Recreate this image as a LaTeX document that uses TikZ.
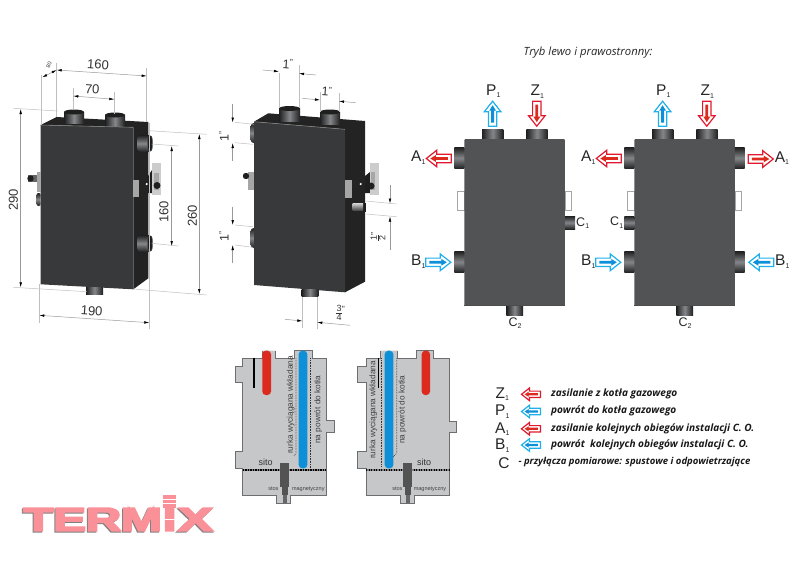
\documentclass[tikz,border=0pt]{standalone}
\usepackage{fontspec}
\setmainfont{Liberation Sans}
\newfontfamily\legendfont{Open Sans}
\newfontfamily\logofont[BoldFeatures={FakeBold=5}]{Liberation Sans}
\usetikzlibrary{arrows.meta}

\definecolor{frontgrey}{HTML}{38393A}
\definecolor{sidegrey}{HTML}{232324}
\definecolor{bodygrey}{HTML}{515354}
\definecolor{pipedark}{HTML}{1F1F20}
\definecolor{pipelight}{HTML}{85878A}
\definecolor{cutgrey}{HTML}{C6C7C9}
\definecolor{cutline}{HTML}{6E6E70}
\definecolor{hotred}{HTML}{E2192C}
\definecolor{tubered}{HTML}{DC2A1E}
\definecolor{coldblue}{HTML}{1FB0EC}
\definecolor{tubeblue}{HTML}{0E90D8}
\definecolor{logopink}{HTML}{FA9199}

\newcommand{\sublabel}[2]{#1\raisebox{-2.5pt}{\fontsize{7}{7}\selectfont #2}}
\newcommand{\inchmark}{\raisebox{3pt}{\fontsize{9}{9}\selectfont"}}
\newcommand{\stackfrac}[2]{$\vcenter{\offinterlineskip\halign{\hfil##\hfil\cr#1\cr\noalign{\vskip0.8pt}\rule{5.5pt}{0.5pt}\cr\noalign{\vskip0.8pt}#2\cr}}$}

\tikzset{
	extline/.style={color=gray!50,line width=0.5pt},
	dimline/.style={color=gray!120!black,line width=0.5pt},
	dimtext/.style={inner sep=0pt,color=black!80,font=\fontsize{13}{13}\selectfont},
	inchtext/.style={inner sep=0pt,color=black!80,font=\fontsize{12.5}{12.5}\selectfont},
	fractext/.style={inner sep=0pt,color=black!80,font=\fontsize{9}{9}\selectfont},
	biglabel/.style={inner sep=0pt,color=black!85,font=\fontsize{15.5}{15.5}\selectfont},
	smalllabel/.style={inner sep=0pt,color=black!85,font=\fontsize{12.5}{12.5}\selectfont},
	cuttext/.style={inner sep=0pt,color=black!75,font=\fontsize{8.3}{8.3}\selectfont},
	tinytext/.style={inner sep=0pt,color=black!75,font=\fontsize{5.5}{5.5}\selectfont},
	legendtext/.style={inner sep=0pt,anchor=west,color=black!90,font=\legendfont\bfseries\itshape\fontsize{10.1}{10.1}\selectfont},
	pipev/.style={left color=pipedark,right color=pipedark,middle color=pipelight},
	pipeh/.style={top color=pipedark,bottom color=pipedark,middle color=pipelight},
	cutbody/.style={fill=cutgrey,draw=cutline,line width=0.7pt},
	logotext/.style={inner sep=0pt,anchor=south west},
	pics/flowarrow/.style 2 args={code={
		\draw[color=#1,fill=white,line width=1.2pt] (-12.5,-4.2)--(2,-4.2)--(2,-8.3)--(12.5,0)--(2,8.3)--(2,4.2)--(-12.5,4.2)--cycle;
		\fill[color=#2] (-9,-1.4)--(3,-1.4)--(3,-3.4)--(8.5,0)--(3,3.4)--(3,1.4)--(-9,1.4)--cycle;
	}}
}

\begin{document}
\begin{tikzpicture}[x=1pt,y=-1pt,>={Latex[black,length=5pt,width=2.6pt]}]
\useasboundingbox (0,0) rectangle (800,563);

% first housing, three quarter view
\fill[color=sidegrey] (40.7,125)--(56.7,117)--(148.3,122)--(148.3,278.3)--(133.3,289.3)--(133.3,127.3)--cycle;
\shade[pipev] (64,112) rectangle (84,123);
\fill[color=pipedark] (74,112) ellipse[x radius=10,y radius=2.5];
\shade[pipev] (105,115) rectangle (125,126);
\fill[color=pipedark] (115,115) ellipse[x radius=10,y radius=2.5];
\fill[color=frontgrey] (40.7,125)--(133.3,127.3)--(133.3,289.3)--(40.7,284.3)--cycle;
\draw[color=gray,line width=0.6pt] (40.7,125)--(133.3,127.3);
\shade[pipev] (86,287.5) rectangle (103,294);
\foreach \y in {135,235}{
	\shade[pipeh,rounded corners=4pt] (137,\y) rectangle (152.7,{\y+17});
	\fill[color=pipedark] (150,{\y+8.5}) ellipse[x radius=2.5,y radius=7];
}
\fill[color=gray!70] (133.3,180) rectangle (139.3,197);
\fill[color=pipedark] (148,176)--(152,170)--(153,193)--(148,193)--cycle;
\fill[color=gray!40] (152,163) rectangle (161,195);
\fill[color=gray!70] (153.5,173) rectangle (158.5,190);
\fill[color=pipedark] (157,185.5) circle[radius=3.5];
\fill[color=white] (146.7,184) circle[radius=1.2];
% left bracket and small pipe
\fill[color=gray!70] (36.7,172) rectangle (40.7,192);
\fill[color=gray!80!black] (28,175) rectangle (36.7,182);
\fill[color=pipedark] (30.5,178.5) circle[radius=3.2];
\shade[pipeh,rounded corners=2pt] (36.5,193) rectangle (40.7,206);

% dimensions of the first housing
\draw[extline] (41,75)--(41,125);
\draw[extline] (56.7,63)--(56.7,117);
\draw[extline] (146.7,68)--(146.7,122);
\draw[extline] (73.3,88)--(73.3,110);
\draw[extline] (114.3,91.7)--(114.3,114);
\draw[extline] (13.3,108.3)--(58,111);
\draw[extline] (13.3,287.3)--(87,291.7);
\draw[extline] (149.3,130.7)--(206.7,134.3);
\draw[extline] (133.3,289)--(206.7,295);
\draw[extline] (151.7,144)--(178.3,146);
\draw[extline] (151.7,243.3)--(178.3,246);
\draw[extline] (39.3,284)--(39.3,323);
\draw[extline] (149.3,123)--(149.3,329);
\draw[dimline,<->] (42.3,77.3)--(56.7,70);
\draw[dimline,<->] (56.7,70)--(146.7,76);
\draw[dimline,<->] (73.3,96)--(114.3,99.3);
\draw[dimline,<->] (20.7,109)--(20.7,287.3);
\draw[dimline,<->] (199.3,134)--(199.3,294);
\draw[dimline,<->] (171.7,146)--(171.7,246);
\draw[dimline,<->] (39.3,315.3)--(149.3,322.7);
\node[inner sep=0pt,color=black!80,font=\fontsize{5.5}{5.5}\selectfont,rotate=70] (depthA) at (49,65) {80};
\node[dimtext,rotate=-4] (widthA) at (98,64.5) {160};
\node[dimtext,rotate=-4] (spacingA) at (92.3,89.5) {70};
\node[dimtext,rotate=90] (heightA) at (13.5,200) {290};
\node[dimtext,rotate=90] (heightB) at (192.3,216) {260};
\node[dimtext,rotate=90] (spacingB) at (164,211.7) {160};
\node[dimtext,rotate=-4] (widthB) at (91.7,311) {190};

% second housing, same view
\fill[color=sidegrey] (254,121.7)--(268.3,113.3)--(365,121)--(365,281.7)--(345,292.3)--(345,129.3)--cycle;
\shade[pipev] (279,108.5) rectangle (300,121);
\fill[color=pipedark] (289.5,108.5) ellipse[x radius=10.5,y radius=2.5];
\shade[pipev] (320,112) rectangle (340,124);
\fill[color=pipedark] (330,112) ellipse[x radius=10,y radius=2.5];
\foreach \y in {123,228}{
	\shade[pipeh,rounded corners=3pt] (250.7,\y) rectangle (256,{\y+20});
}
\fill[color=frontgrey] (254,121.7)--(345,129.3)--(345,292.3)--(254,285)--cycle;
\draw[color=gray,line width=0.6pt] (254,121.7)--(345,129.3);
\shade[pipev] (301.7,289) rectangle (318.3,296);
\fill[color=gray!70] (345,180) rectangle (352.3,198);
\fill[color=pipedark] (365,176)--(370,172)--(370,193)--(365,193)--cycle;
\fill[color=gray!40] (370,163) rectangle (379.3,195);
\fill[color=gray!70] (370.5,172) rectangle (375,190);
\fill[color=pipedark] (371,186) circle[radius=3.5];
\fill[color=white] (360.7,184) circle[radius=1.2];
\fill[color=pipedark] (361,203) rectangle (366,212);
\shade[top color=gray!30,bottom color=gray!60!black] (352.7,203) rectangle (363,210);
\fill[color=gray!70] (248.3,171.7) rectangle (254,190);
\fill[color=pipedark] (246,176) circle[radius=3.2];

% dimensions of the second housing
\draw[extline] (279,73)--(279,108);
\draw[extline] (299,65)--(299,108);
\draw[extline] (320,92)--(320,112);
\draw[extline] (339,93)--(339,112);
\draw[extline] (235,122.3)--(254,124.3);
\draw[extline] (235,142.7)--(253,144.3);
\draw[extline] (235,225)--(253,226.7);
\draw[extline] (235,245)--(253,247.3);
\draw[extline] (366,201)--(396.7,204);
\draw[extline] (366,214)--(396.7,216.7);
\draw[extline] (302.3,297)--(302.3,328);
\draw[extline] (317.3,297)--(317.3,329);
\draw[dimline,->] (262.7,70)--(279,71.5);
\draw[dimline,->] (316,75)--(299,73.5);
\draw[dimline,->] (302.3,98.3)--(320,100);
\draw[dimline,->] (355.7,102.7)--(339,101.2);
\draw[dimline,->] (232.7,104)--(232.7,122.5);
\draw[dimline,->] (232.7,160.7)--(232.7,143);
\draw[dimline,->] (232.7,206.7)--(232.7,225);
\draw[dimline,->] (232.7,263.3)--(232.7,245);
\draw[dimline,->] (390,185)--(390,203.5);
\draw[dimline,->] (390,250)--(390,216.5);
\draw[dimline,->] (285,319.3)--(302.3,321);
\draw[dimline,->] (350,325.3)--(317.3,322.3);
\node[inchtext,rotate=-4] (pipeA) at (287.7,64) {1\inchmark};
\node[inchtext,rotate=-4] (pipeB) at (326.7,91.7) {1\inchmark};
\node[inchtext,rotate=90] (pipeC) at (224,136.7) {1\inchmark};
\node[inchtext,rotate=90] (pipeD) at (224,236.7) {1\inchmark};
\node[fractext,rotate=90] (pipeE) at (378,236.7) {\stackfrac{1}{2}\inchmark};
\node[fractext] (pipeF) at (340.5,313) {\stackfrac{3}{4}\inchmark};

\node[anchor=center,inner sep=0pt,color=black!85,font=\itshape\legendfont\fontsize{11.3}{11.3}\selectfont] (title) at (588,53) {Tryb lewo i prawostronny:};

% front views, left and right mode
\foreach \bx/\nm in {464.3/left,634.3/right}{
	\begin{scope}[shift={(\bx,0)}]
	\foreach \x in {17.7,62}{
		\shade[pipev] (\x,129.3) rectangle ({\x+21.4},139.3);
	}
	\foreach \y in {147.3,251.3}{
		\shade[pipeh] (-10,\y) rectangle (0,{\y+21.4});
	}
	\shade[pipev] (42,305.7) rectangle (58.7,315.7);
	\draw[color=gray!70,fill=white,line width=0.6pt] (-6.6,191.3) rectangle (0,210.3);
	\draw[color=gray!70,fill=white,line width=0.6pt] (100.5,191.3) rectangle (107,210.3);
	\fill[color=bodygrey,rounded corners=0.8pt] (0,139.2) rectangle (100.5,305.7);
	\draw[color=black!70,line width=0.8pt] (0,305.5)--(100.5,305.5);
	\pic[rotate=90] at (28.3,113.7) {flowarrow={coldblue}{tubeblue}};
	\pic[rotate=-90] at (72.5,113.7) {flowarrow={hotred}{tubered}};
	\pic[rotate=180] at (-25.5,158.5) {flowarrow={hotred}{tubered}};
	\pic at (-26,262.3) {flowarrow={coldblue}{tubeblue}};
	\node[biglabel] (P\nm) at (29,91) {\sublabel{P}{1}};
	\node[biglabel] (Z\nm) at (73,91.5) {\sublabel{Z}{1}};
	\node[biglabel] (A\nm) at (-46,157.5) {\sublabel{A}{1}};
	\node[biglabel] (B\nm) at (-46,261.7) {\sublabel{B}{1}};
	\node[smalllabel] (Ctwo\nm) at (50.7,323) {\sublabel{C}{2}};
	\end{scope}
}
\shade[pipeh] (565,216) rectangle (575,229.3);
\node[smalllabel] (Cone) at (582.7,223) {\sublabel{C}{1}};
\shade[pipeh] (624.3,216) rectangle (634.3,229.3);
\node[smalllabel] (Ctwo) at (616.7,222.7) {\sublabel{C}{1}};
\foreach \y in {147.3,251.3}{
	\shade[pipeh] (734.8,\y) rectangle (744.7,{\y+21.4});
}
\pic at (760.8,159) {flowarrow={hotred}{tubered}};
\pic[rotate=180] at (761.3,262.3) {flowarrow={coldblue}{tubeblue}};
\node[biglabel] (Aextra) at (782,158) {\sublabel{A}{1}};
\node[biglabel] (Bextra) at (782.3,261.7) {\sublabel{B}{1}};

% cross section, tube on the right
\draw[cutbody] (262.3,350.7)--(262.3,358.3)--(242.7,358.3)--(242.7,366)--(235,366)--(235,382.7)--(242.7,382.7)--(242.7,451)--(235,451)--(235,468.3)--(242.7,468.3)--(242.7,495)--(276,495)--(276,503.3)--(290,503.3)--(290,495)--(326,495)--(326,432.7)--(334.3,432.7)--(334.3,420)--(326,420)--(326,358.3)--(312.3,358.3)--(312.3,350.7)--(294,350.7)--(294,358.3)--(275.7,358.3)--(275.7,350.7);
\fill[color=tubered,rounded corners=3.5pt] (262.3,350.7) rectangle (271,395);
\fill[color=tubeblue,rounded corners=3.5pt] (298.7,350.7) rectangle (307.3,468.3);
\draw[color=black,line width=1.3pt] (254,358.3)--(254,388.3);
\draw[densely dotted,color=black!80,line width=0.6pt] (296,358.3)--(296,453)--(294,456);
\draw[densely dotted,color=black!80,line width=0.6pt] (310,358.3)--(310,468);
\draw[color=gray,line width=2.4pt] (242.7,470)--(326,470);
\draw[color=black,line width=2.2pt,dash pattern=on 1.4pt off 1.1pt] (242.7,470)--(326,470);
\fill[color=gray!65!black] (280,462.7) rectangle (289,486.7);
\fill[color=gray!65!black] (281.7,486.7) rectangle (287.7,495);
\fill[color=gray!80!black] (282.7,495) rectangle (286.7,503.3);
\node[cuttext,rotate=90] (tubeA) at (290.7,405) {rurka wyciągana wkładana};
\node[cuttext,rotate=90] (returnA) at (318.3,409.7) {na powrót do kotła};
\node[inner sep=0pt,color=black!80,font=\fontsize{9}{9}\selectfont] (sieveA) at (265.7,462.7) {sito};
\node[tinytext] (stackA) at (273.3,489) {stos};
\node[tinytext] (magnetA) at (308.3,489) {magnetyczny};

% cross section, tube on the left
\draw[cutbody] (380.7,350.7)--(380.7,358.3)--(366,358.3)--(366,366)--(357.3,366)--(357.3,382.7)--(366,382.7)--(366,451)--(357.3,451)--(357.3,468.3)--(366,468.3)--(366,495)--(400.7,495)--(400.7,503.3)--(414,503.3)--(414,495)--(449,495)--(449,432.7)--(456.7,432.7)--(456.7,421)--(449,421)--(449,358.3)--(433.3,358.3)--(433.3,350.7)--(416,350.7)--(416,358.3)--(397.3,358.3)--(397.3,350.7);
\fill[color=tubered,rounded corners=3.5pt] (421.7,350.7) rectangle (430,395);
\fill[color=tubeblue,rounded corners=3.5pt] (384.7,350.7) rectangle (393.3,468.3);
\draw[color=black,line width=1.3pt] (378.3,358.3)--(378.3,388.3);
\draw[densely dotted,color=black!80,line width=0.6pt] (381.7,358.3)--(381.7,466.7);
\draw[densely dotted,color=black!80,line width=0.6pt] (396.7,358.3)--(396.7,453)--(393.3,456.7);
\draw[color=gray,line width=2.4pt] (366,470)--(449,470);
\draw[color=black,line width=2.2pt,dash pattern=on 1.4pt off 1.1pt] (366,470)--(449,470);
\fill[color=gray!65!black] (403.3,462.7) rectangle (412.3,486.7);
\fill[color=gray!65!black] (405,486.7) rectangle (410.7,495);
\fill[color=gray!80!black] (405.7,495) rectangle (409.7,503.3);
\node[cuttext,rotate=90] (tubeB) at (373.3,410) {rurka wyciągana wkładana};
\node[cuttext,rotate=90] (returnB) at (402.3,410) {na powrót do kotła};
\node[inner sep=0pt,color=black!80,font=\fontsize{9}{9}\selectfont] (sieveB) at (424,462.3) {sito};
\node[tinytext] (stackB) at (397.3,489) {stos};
\node[tinytext] (magnetB) at (430,489) {magnetyczny};

% legend
\node[biglabel] (keyZ) at (502.3,394.3) {\sublabel{Z}{1}};
\node[biglabel] (keyP) at (502.3,411.7) {\sublabel{P}{1}};
\node[biglabel] (keyA) at (502.3,429) {\sublabel{A}{1}};
\node[biglabel] (keyB) at (502.3,445.7) {\sublabel{B}{1}};
\node[biglabel] (keyC) at (504,462.7) {C};
\pic[rotate=180,scale=0.76] at (531,394.3) {flowarrow={hotred}{tubered}};
\pic[rotate=180,scale=0.76] at (531,411.5) {flowarrow={coldblue}{tubeblue}};
\pic[rotate=180,scale=0.76] at (531,428.8) {flowarrow={hotred}{tubered}};
\pic[rotate=180,scale=0.76] at (531,445) {flowarrow={coldblue}{tubeblue}};
\node[legendtext] (lineZ) at (551,394) {zasilanie z kotła gazowego};
\node[legendtext] (lineP) at (551,411.3) {powrót do kotła gazowego};
\node[legendtext] (lineA) at (551,428.7) {zasilanie kolejnych obiegów instalacji C. O.};
\node[legendtext] (lineB) at (551,444.7) {powrót\ \ kolejnych obiegów instalacji C. O.};
\node[legendtext,font=\legendfont\bfseries\itshape\fontsize{9.55}{9.55}\selectfont] (lineC) at (518.3,462) {- przyłącza pomiarowe: spustowe i odpowietrzające};

% logo
\node[logotext,color=gray] (shadeterm) at (22.3,532) {\resizebox{138.4pt}{22.7pt}{\logofont\bfseries TERM}};
\node[logotext,color=gray] (shadex) at (177,532) {\resizebox{34.7pt}{22.7pt}{\logofont\bfseries X}};
\node[logotext,color=logopink] (logoterm) at (23.3,531) {\resizebox{138.4pt}{22.7pt}{\logofont\bfseries TERM}};
\node[logotext,color=logopink] (logox) at (178,531) {\resizebox{34.7pt}{22.7pt}{\logofont\bfseries X}};
\node[logotext,color=logopink] (logoi) at (162.7,531) {\resizebox{13.4pt}{22.7pt}{\logofont\bfseries I}};
\foreach \y in {495,499.5,504}{
	\fill[color=logopink] (162.7,\y) rectangle (176,{\y+3.5});
}
\fill[color=white] (162.7,519) rectangle (176,520.2);

\end{tikzpicture}
\end{document}
